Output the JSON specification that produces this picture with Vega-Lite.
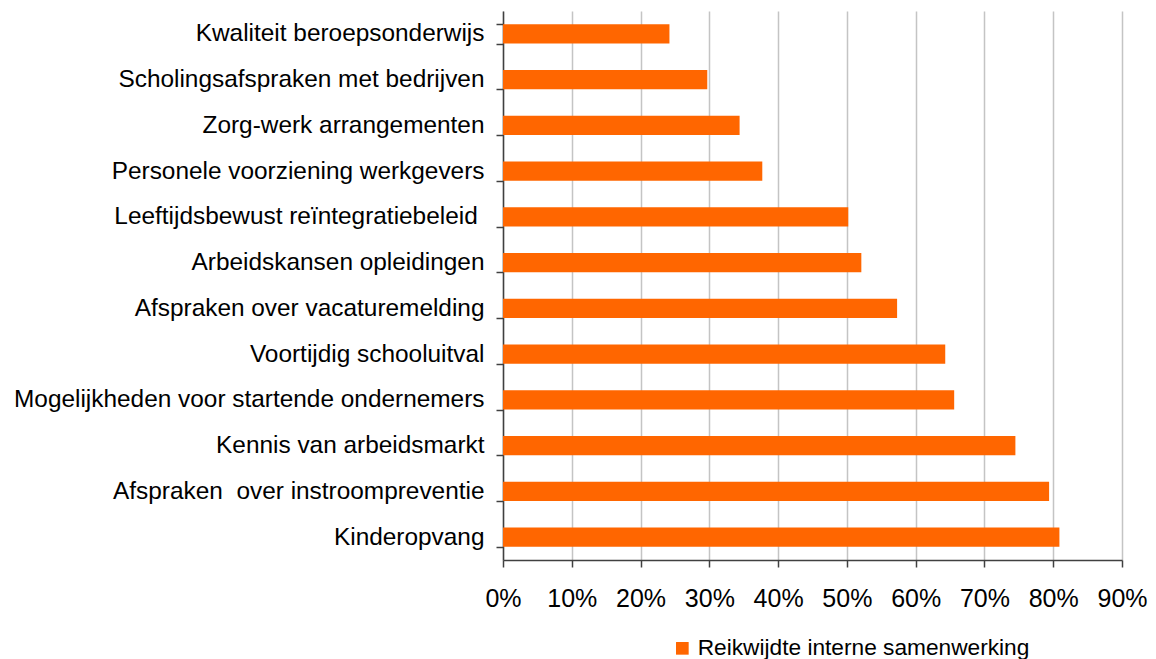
{
  "$schema": "https://vega.github.io/schema/vega-lite/v6.json",
  "width": 619,
  "height": 549,
  "autosize": {"type": "none"},
  "padding": {"left": 503, "top": 11, "right": 34, "bottom": 99},
  "background": "white",
  "config": {
    "font": "Liberation Sans",
    "view": {"stroke": null}
  },
  "data": {
    "values": [
      {"categorie": "Kwaliteit beroepsonderwijs", "waarde": 0.242, "reeks": "Reikwijdte interne samenwerking"},
      {"categorie": "Scholingsafspraken met bedrijven", "waarde": 0.297, "reeks": "Reikwijdte interne samenwerking"},
      {"categorie": "Zorg-werk arrangementen", "waarde": 0.344, "reeks": "Reikwijdte interne samenwerking"},
      {"categorie": "Personele voorziening werkgevers", "waarde": 0.377, "reeks": "Reikwijdte interne samenwerking"},
      {"categorie": "Leeftijdsbewust reïntegratiebeleid\u00a0\u200b", "waarde": 0.502, "reeks": "Reikwijdte interne samenwerking"},
      {"categorie": "Arbeidskansen opleidingen", "waarde": 0.521, "reeks": "Reikwijdte interne samenwerking"},
      {"categorie": "Afspraken over vacaturemelding", "waarde": 0.573, "reeks": "Reikwijdte interne samenwerking"},
      {"categorie": "Voortijdig schooluitval", "waarde": 0.643, "reeks": "Reikwijdte interne samenwerking"},
      {"categorie": "Mogelijkheden voor startende ondernemers", "waarde": 0.656, "reeks": "Reikwijdte interne samenwerking"},
      {"categorie": "Kennis van arbeidsmarkt", "waarde": 0.745, "reeks": "Reikwijdte interne samenwerking"},
      {"categorie": "Afspraken\u00a0 over instroompreventie", "waarde": 0.794, "reeks": "Reikwijdte interne samenwerking"},
      {"categorie": "Kinderopvang", "waarde": 0.809, "reeks": "Reikwijdte interne samenwerking"}
    ]
  },
  "mark": {"type": "bar"},
  "encoding": {
    "y": {
      "field": "categorie",
      "type": "nominal",
      "sort": null,
      "scale": {"paddingInner": 0.575, "paddingOuter": 0.2875},
      "axis": {
        "title": null,
        "tickBand": "extent",
        "domainColor": "#404040",
        "domainWidth": 1.5,
        "tickColor": "#404040",
        "tickWidth": 1.5,
        "tickSize": 7,
        "labelPadding": 12,
        "labelFontSize": 24.4,
        "labelColor": "#000000",
        "labelLimit": 0,
        "grid": false
      }
    },
    "x": {
      "field": "waarde",
      "type": "quantitative",
      "scale": {"domain": [0, 0.9], "nice": false},
      "axis": {
        "title": null,
        "format": ".0%",
        "values": [0, 0.1, 0.2, 0.3, 0.4, 0.5, 0.6, 0.7, 0.8, 0.9],
        "grid": true,
        "gridColor": "#c4c4c4",
        "gridWidth": 1.5,
        "domainColor": "#404040",
        "domainWidth": 1.5,
        "tickColor": "#404040",
        "tickWidth": 1.5,
        "tickSize": 7,
        "labelPadding": 19,
        "labelFontSize": 25,
        "labelColor": "#000000",
        "labelFlush": false
      }
    },
    "color": {
      "field": "reeks",
      "type": "nominal",
      "scale": {"range": ["#ff6600"]},
      "legend": {
        "title": null,
        "orient": "none",
        "legendX": 168,
        "legendY": 626,
        "direction": "horizontal",
        "symbolType": "square",
        "symbolSize": 160,
        "symbolStrokeWidth": 0,
        "symbolOpacity": 1,
        "labelFontSize": 22.7,
        "labelColor": "#000000",
        "labelOffset": 4,
        "labelLimit": 0,
        "padding": 0,
        "offset": 0
      }
    }
  }
}
